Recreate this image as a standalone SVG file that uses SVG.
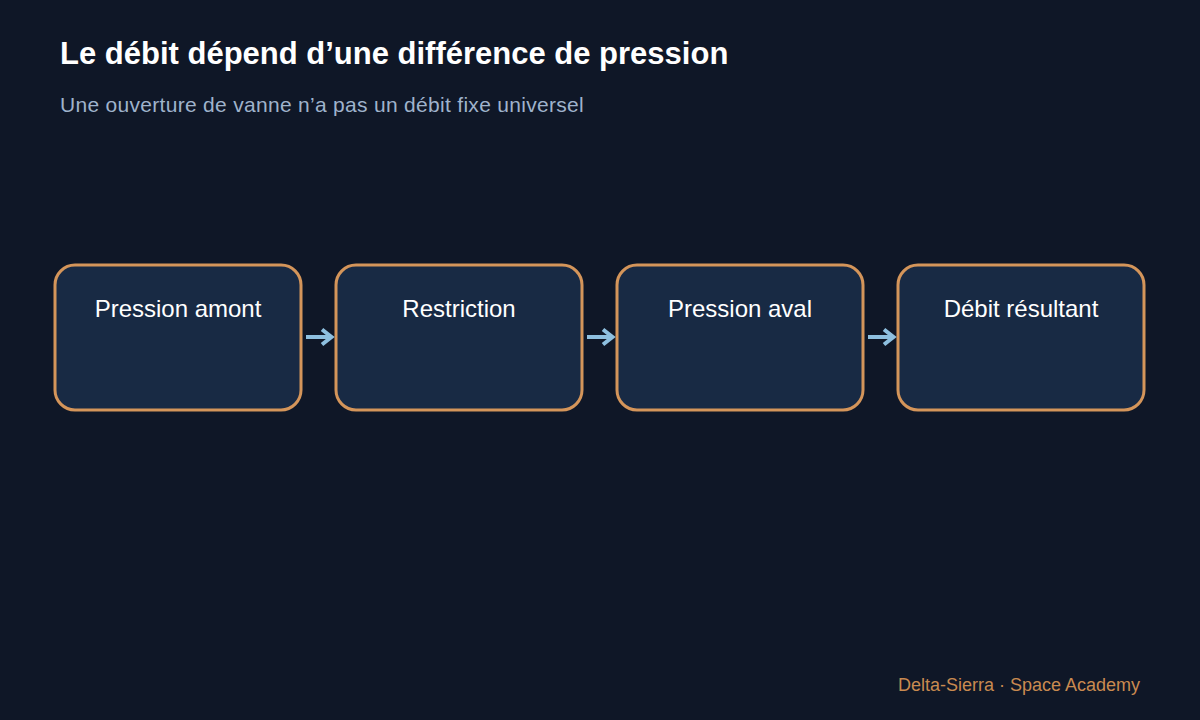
<svg xmlns="http://www.w3.org/2000/svg" width="1200" height="720" viewBox="0 0 1200 720">
<defs>
<style>
.title{font-family:"Liberation Sans",Arial,sans-serif;font-weight:bold;font-size:31px;fill:#ffffff}
.sub{font-family:"Liberation Sans",Arial,sans-serif;font-size:21px;letter-spacing:0.3px;fill:#9fb3cc}
.foot{font-family:"Liberation Sans",Arial,sans-serif;font-size:18px;fill:#c98a50}
.box{fill:#182a44;stroke:#d4955a;stroke-width:3}
.lbl{font-family:"Liberation Sans",Arial,sans-serif;font-size:24px;fill:#ffffff;text-anchor:middle}
.conn{stroke:#8ec0e0;stroke-width:4;fill:none}
.head{stroke:#8ec0e0;stroke-width:4;fill:none}
</style>
</defs>
<rect width="1200" height="720" fill="#0f1727"/>
<text class="title" x="60" y="64">Le débit dépend d’une différence de pression</text>
<text class="sub" x="60" y="112">Une ouverture de vanne n’a pas un débit fixe universel</text>
<g id="n1"><rect class="box" x="55" y="265" width="246" height="145" rx="20"/><text class="lbl" x="178" y="317">Pression amont</text></g>
<g id="n2"><rect class="box" x="336" y="265" width="246" height="145" rx="20"/><text class="lbl" x="459" y="317">Restriction</text></g>
<g id="n3"><rect class="box" x="617" y="265" width="246" height="145" rx="20"/><text class="lbl" x="740" y="317">Pression aval</text></g>
<g id="n4"><rect class="box" x="898" y="265" width="246" height="145" rx="20"/><text class="lbl" x="1021" y="317">Débit résultant</text></g>
<g id="connectors">
<g id="c1"><line class="conn" x1="306" y1="337" x2="331" y2="337"/><path class="head" d="M322,329.5 L331.5,337 L322,344.5"/></g>
<g id="c2"><line class="conn" x1="587" y1="337" x2="612" y2="337"/><path class="head" d="M603,329.5 L612.5,337 L603,344.5"/></g>
<g id="c3"><line class="conn" x1="868" y1="337" x2="893" y2="337"/><path class="head" d="M884,329.5 L893.5,337 L884,344.5"/></g>
</g>
<text class="foot" x="1140" y="691" text-anchor="end">Delta-Sierra · Space Academy</text>
</svg>
